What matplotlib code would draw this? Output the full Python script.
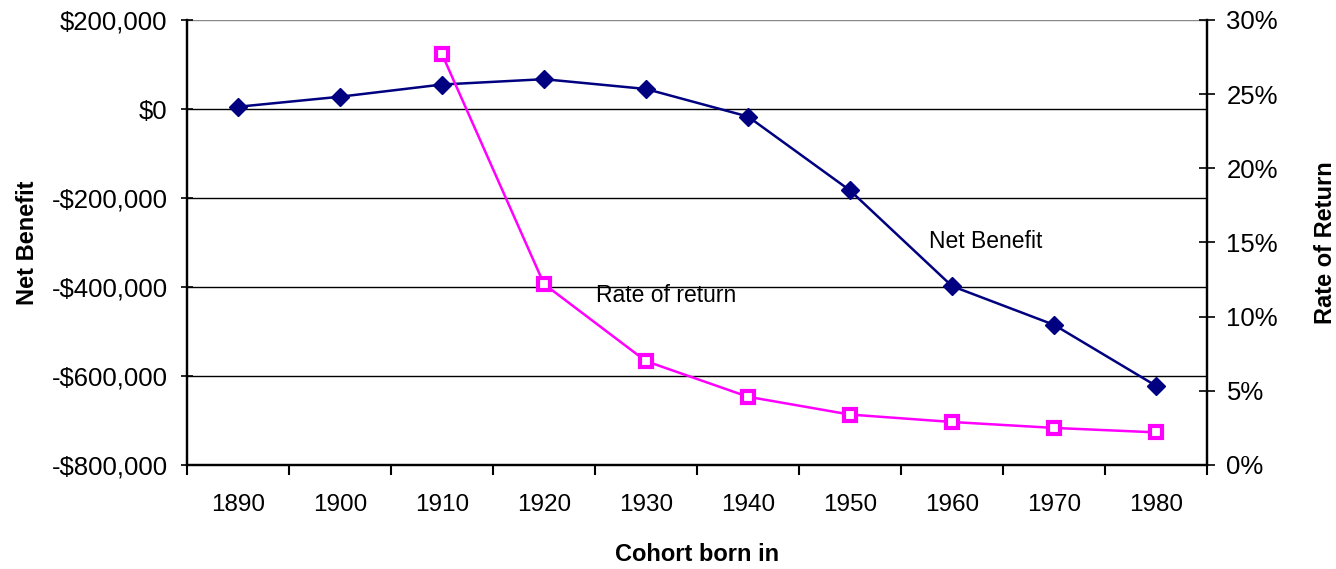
import matplotlib
matplotlib.use("Agg")
import matplotlib.pyplot as plt
from matplotlib.ticker import FuncFormatter, FixedLocator

plt.rcParams['font.family'] = ['Liberation Sans', 'DejaVu Sans']

cohorts = ['1890', '1900', '1910', '1920', '1930', '1940', '1950', '1960', '1970', '1980']
net_benefit = [5000, 27600, 55000, 67000, 45000, -17000, -183000, -398000, -485000, -622000]
rate_cohorts = ['1910', '1920', '1930', '1940', '1950', '1960', '1970', '1980']
rate_of_return = [0.277, 0.122, 0.070, 0.046, 0.034, 0.029, 0.025, 0.022]

W, H = 1336, 569
fig = plt.figure(figsize=(W / 100, H / 100), dpi=100)
ax = fig.add_axes([187 / W, 1 - 465 / H, (1207 - 187) / W, (465 - 20) / H])
ax2 = ax.twinx()

x = list(range(len(cohorts)))
xr = [cohorts.index(c) for c in rate_cohorts]

# gridlines
for v in [0, -200000, -400000, -600000]:
    ax.axhline(v, color='black', lw=1.0, zorder=1)
ax.axhline(200000, color='#888888', lw=1.0, zorder=1)

ax.plot(x, net_benefit, color='#000080', lw=1.8, marker='D', markersize=9,
        markerfacecolor='#000080', markeredgecolor='#000080', zorder=3)
ax2.plot(xr, rate_of_return, color='#FF00FF', lw=1.8, marker='s', markersize=9,
         markerfacecolor='white', markeredgecolor='#FF00FF', markeredgewidth=3.0, zorder=3)

ax.set_xlim(-0.5, len(cohorts) - 0.5)
ax.set_ylim(-800000, 200000)
ax2.set_ylim(0, 0.30)

ax.set_yticks([200000, 0, -200000, -400000, -600000, -800000])
ax.yaxis.set_major_formatter(FuncFormatter(
    lambda v, p: ('-' if v < 0 else '') + '${:,.0f}'.format(abs(v))))
ax2.set_yticks([0, 0.05, 0.10, 0.15, 0.20, 0.25, 0.30])
ax2.yaxis.set_major_formatter(FuncFormatter(lambda v, p: '{:.0f}%'.format(v * 100)))

ax.set_xticks(x)
ax.set_xticklabels(cohorts)
ax.tick_params(axis='x', which='major', length=0, pad=21, labelsize=17.5)
ax.xaxis.set_minor_locator(FixedLocator([i - 0.5 for i in range(len(cohorts) + 1)]))
ax.tick_params(axis='x', which='minor', direction='out', length=7.5, width=1.5, color='black')

ax.tick_params(axis='y', direction='inout', length=8, width=1.2, pad=10, labelsize=18.5)
ax2.tick_params(axis='y', direction='inout', length=12, width=1.2, pad=8, labelsize=18.5)

for a in (ax, ax2):
    a.spines['top'].set_visible(False)
    for s in ('left', 'right', 'bottom'):
        a.spines[s].set_linewidth(1.6)
        a.spines[s].set_color('black')

ax.set_xlabel('Cohort born in', fontsize=17, fontweight='bold', labelpad=19)
ax.set_ylabel('Net Benefit', fontsize=17, fontweight='bold', labelpad=9)
ax2.set_ylabel('Rate of Return', fontsize=17, fontweight='bold', labelpad=26)

ax.text(929 / W, 1 - 242 / H, 'Net Benefit', transform=fig.transFigure,
        fontsize=16.5, va='center', ha='left', color='black')
ax.text(596 / W, 1 - 296 / H, 'Rate of return', transform=fig.transFigure,
        fontsize=16.5, va='center', ha='left', color='black')

fig.savefig('out.png', dpi=100)
